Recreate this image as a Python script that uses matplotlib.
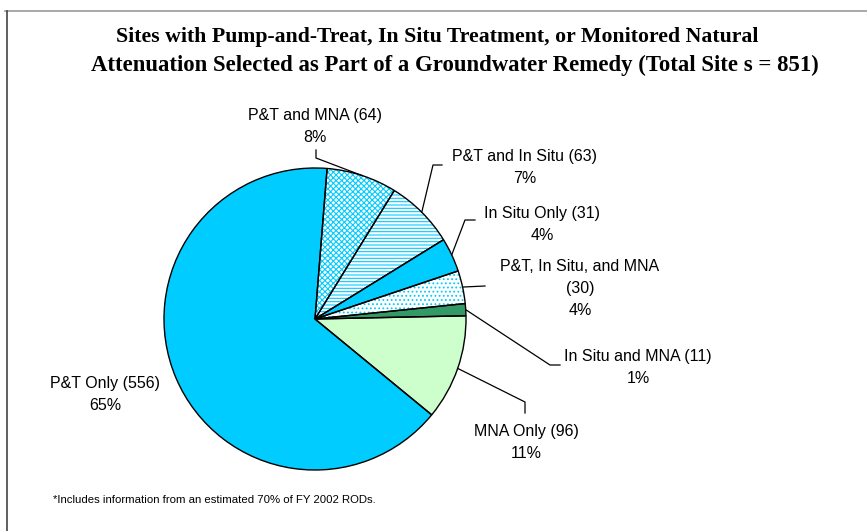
import numpy as np
import matplotlib.pyplot as plt

names = ["P&T and MNA", "P&T and In Situ", "In Situ Only",
         "P&T, In Situ, and MNA", "In Situ and MNA", "MNA Only", "P&T Only"]
sites = [64, 63, 31, 30, 11, 96, 556]
pcts = ["8%", "7%", "4%", "4%", "1%", "11%", "65%"]

cyan = "#00CCFF"
fills = ["white", "white", cyan, "white", "#339966", "#CCFFCC", cyan]
hatches = ["xxxxxx", "-----", None, "....", None, None, None]

W, H = 867, 531
fig = plt.figure(figsize=(W/100, H/100), dpi=100)
ax = fig.add_axes([0, 0, 1, 1])

# image coords -> axes coords (y flipped)
def Y(y):
    return H - y

cx, cy, r = 315, Y(319), 151
start = 85.4
plt.rcParams["hatch.linewidth"] = 0.8

# fills + hatches
wedges, _ = ax.pie(sites, center=(cx, cy), radius=r, startangle=start,
                   counterclock=False, colors=fills, frame=True)
for w, h in zip(wedges, hatches):
    w.set_linewidth(0)
    if h:
        w.set_hatch(h)
        w.set_edgecolor(cyan)
# outlines
ax.pie(sites, center=(cx, cy), radius=r, startangle=start,
       counterclock=False, colors=["none"]*len(sites),
       wedgeprops=dict(edgecolor="black", linewidth=1.0), frame=True)
ax.set_xlim(0, W)
ax.set_ylim(0, H)
ax.set_aspect("equal")
ax.axis("off")

# label text centre of first line (image px)
lab_xy = [(315, 117), (525, 158), (542, 215), (580, 268), (638, 358), (526, 433), (105, 385)]
text_lines = [
    f"{names[0]} ({sites[0]})\n{pcts[0]}",
    f"{names[1]} ({sites[1]})\n{pcts[1]}",
    f"{names[2]} ({sites[2]})\n{pcts[2]}",
    f"{names[3]}\n({sites[3]})\n{pcts[3]}",
    f"{names[4]} ({sites[4]})\n{pcts[4]}",
    f"{names[5]} ({sites[5]})\n{pcts[5]}",
    f"{names[6]} ({sites[6]})\n{pcts[6]}",
]
# leader path points after the wedge edge point (image px)
leaders = [
    [(316, 158), (316, 150)],
    [(433, 165), (442, 165)],
    [(465, 220), (475, 220)],
    [(485, 286)],
    [(550, 365), (560, 365)],
    [(525, 402), (525, 413)],
    None,
]
for w, (tx, ty), txt, ld in zip(wedges, lab_xy, text_lines, leaders):
    ax.text(tx, Y(ty - 9), txt, ha="center", va="top", fontsize=11.5,
            family="Liberation Sans", linespacing=1.6)
    if ld:
        mid = np.deg2rad((w.theta1 + w.theta2) / 2)
        px = [cx + r*np.cos(mid)] + [p[0] for p in ld]
        py = [cy + r*np.sin(mid)] + [Y(p[1]) for p in ld]
        ax.plot(px, py, color="black", lw=0.9)

ax.text(437, Y(37), "Sites with Pump-and-Treat, In Situ Treatment, or Monitored Natural",
        ha="center", va="center", fontsize=15.7, fontweight="bold",
        family="Liberation Serif")
ax.text(455, Y(65), "Attenuation Selected as Part of a Groundwater Remedy (Total Site s = 851)",
        ha="center", va="center", fontsize=16.4, fontweight="bold",
        family="Liberation Serif")
ax.text(53, Y(500), "*Includes information from an estimated 70% of FY 2002 RODs.",
        ha="left", va="center", fontsize=8.2, family="Liberation Sans")

# frame
ax.plot([5, W], [Y(11), Y(11)], color="#999999", lw=1.2)
ax.plot([7, 7], [Y(11), 0], color="#444444", lw=1.2)

fig.savefig("out.png", dpi=100)
